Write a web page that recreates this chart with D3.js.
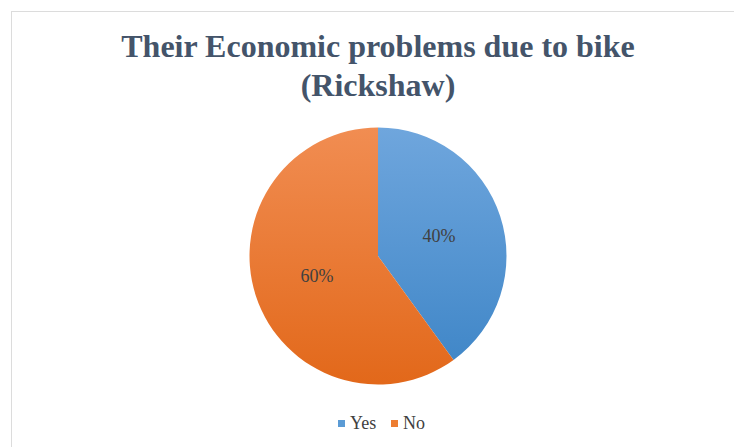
<!DOCTYPE html>
<html>
<head>
<meta charset="utf-8">
<script src="https://cdn.jsdelivr.net/npm/d3@7"></script>
<style>
  body { margin: 0; background: #fff; }
  svg { display: block; }
</style>
</head>
<body>
<div id="container"></div>
<script>
/* CONSTANTS AND GLOBALS */
const width = 734,
  height = 447,
  cx = 378,
  cy = 256,
  radius = 128.5,
  serif = "Liberation Serif";

/* DATA */
const categories = ["Yes", "No"];
const values = [40, 60];
const titleLines = ["Their Economic problems due to bike", "(Rickshaw)"];

const colorTop = { Yes: "#6fa6dd", No: "#f18d52" };
const colorBottom = { Yes: "#3c84c6", No: "#e2681a" };
const legendColor = { Yes: "#5b9bd5", No: "#ed7d31" };

const svg = d3.select("#container").append("svg")
  .attr("width", width)
  .attr("height", height);

// chart area border
svg.append("rect")
  .attr("x", 11.5)
  .attr("y", 11.5)
  .attr("width", width)
  .attr("height", height)
  .attr("fill", "#fff")
  .attr("stroke", "#dcdcdc");

/* GRADIENTS */
const defs = svg.append("defs");
categories.forEach(c => {
  const g = defs.append("linearGradient")
    .attr("id", "grad-" + c)
    .attr("gradientUnits", "userSpaceOnUse")
    .attr("x1", 0).attr("y1", -radius)
    .attr("x2", 0).attr("y2", radius);
  g.append("stop").attr("offset", "0%").attr("stop-color", colorTop[c]);
  g.append("stop").attr("offset", "100%").attr("stop-color", colorBottom[c]);
});

/* TITLE */
svg.selectAll("text.title")
  .data(titleLines)
  .join("text")
  .attr("class", "title")
  .attr("x", cx)
  .attr("y", (d, i) => 57 + i * 39)
  .attr("text-anchor", "middle")
  .attr("font-family", serif)
  .attr("font-weight", "bold")
  .attr("font-size", 32)
  .attr("fill", "#44546a")
  .text(d => d);

/* PIE */
const data = categories.map((c, i) => ({ cat: c, value: values[i] }));
const pie = d3.pie().sort(null).value(d => d.value);
const arc = d3.arc().innerRadius(0).outerRadius(radius);
const labelArc = d3.arc().innerRadius(radius * 0.5).outerRadius(radius * 0.5);

const g = svg.append("g").attr("transform", `translate(${cx},${cy})`);
const arcs = pie(data);

g.selectAll("path.slice")
  .data(arcs)
  .join("path")
  .attr("class", "slice")
  .attr("d", arc)
  .attr("fill", d => `url(#grad-${d.data.cat})`);

g.selectAll("text.label")
  .data(arcs)
  .join("text")
  .attr("class", "label")
  .attr("transform", d => `translate(${labelArc.centroid(d)})`)
  .attr("dy", "0.35em")
  .attr("text-anchor", "middle")
  .attr("font-family", serif)
  .attr("font-size", 18)
  .attr("fill", "#404040")
  .text(d => d3.format(".0%")(d.data.value / d3.sum(values)));

/* LEGEND */
const legendX = [338, 391];
const legend = svg.selectAll("g.legend")
  .data(categories)
  .join("g")
  .attr("class", "legend")
  .attr("transform", (d, i) => `translate(${legendX[i]},420)`);

legend.append("rect")
  .attr("width", 7)
  .attr("height", 7)
  .attr("fill", d => legendColor[d]);

legend.append("text")
  .attr("x", 12)
  .attr("y", 9)
  .attr("font-family", serif)
  .attr("font-size", 18)
  .attr("fill", "#404040")
  .text(d => d);
</script>
</body>
</html>
